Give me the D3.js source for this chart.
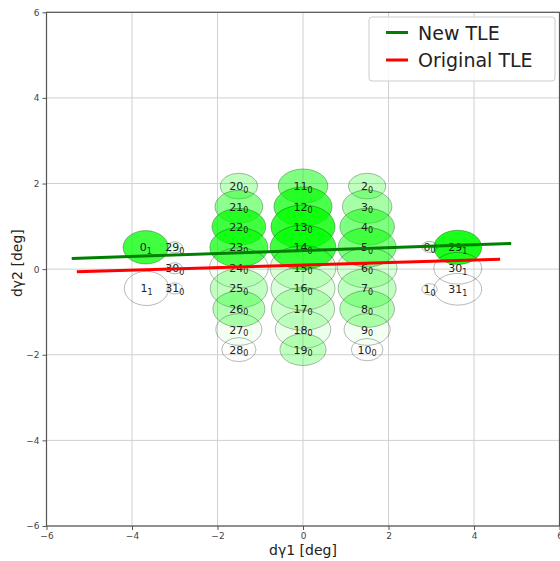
<!DOCTYPE html>
<html><head><meta charset="utf-8">
<script src="https://cdn.jsdelivr.net/npm/d3@7"></script>
<style>body{margin:0;background:#fff}svg{display:block;font-family:"DejaVu Sans",sans-serif}</style>
</head><body><svg id="c" width="560" height="561"></svg>
<script>
// ---- data ----
const ids   = [20,21,22,23,24,25,26,27,28, 11,12,13,14,15,16,17,18,19, 2,3,4,5,6,7,8,9,10, 0,1,29,30,31, 29,30,31,0,1];
const subs  = [0,0,0,0,0,0,0,0,0, 0,0,0,0,0,0,0,0,0, 0,0,0,0,0,0,0,0,0, 1,1,1,1,1, 0,0,0,0,0];
const cx    = [-1.5,-1.5,-1.5,-1.5,-1.5,-1.5,-1.5,-1.5,-1.5, 0,0,0,0,0,0,0,0,0, 1.5,1.5,1.5,1.5,1.5,1.5,1.5,1.5,1.5, -3.68,-3.66,3.62,3.62,3.62, -3.0,-3.0,-3.0,2.96,2.96];
const cy    = [1.94,1.46,0.99,0.51,0.03,-0.45,-0.93,-1.41,-1.88, 1.94,1.46,0.99,0.51,0.03,-0.45,-0.93,-1.41,-1.88, 1.94,1.46,0.99,0.51,0.03,-0.45,-0.93,-1.41,-1.88, 0.51,-0.45,0.51,0.02,-0.47, 0.51,0.02,-0.45,0.52,-0.47];
const rx    = [0.44,0.56,0.63,0.68,0.69,0.67,0.61,0.54,0.40, 0.58,0.68,0.75,0.77,0.77,0.75,0.74,0.65,0.54, 0.44,0.58,0.64,0.68,0.70,0.68,0.64,0.54,0.37, 0.53,0.52,0.56,0.56,0.56, 0.18,0.18,0.18,0.18,0.18];
const ry    = [0.30,0.38,0.43,0.46,0.47,0.46,0.42,0.37,0.28, 0.40,0.46,0.51,0.52,0.52,0.51,0.50,0.44,0.37, 0.30,0.39,0.43,0.46,0.47,0.46,0.43,0.37,0.26, 0.39,0.40,0.40,0.37,0.37, 0.13,0.13,0.13,0.13,0.13];
const alpha = [0.25,0.45,0.75,0.7,0.05,0.25,0.3,0.05,0.0, 0.5,0.7,0.8,0.75,0.15,0.15,0.2,0.08,0.25, 0.25,0.35,0.5,0.5,0.15,0.25,0.3,0.05,0.0, 0.75,0.0,0.9,0.0,0.0, 0.1,0.05,0.0,0.1,0.0];
const newTLE  = [[-5.41,0.25],[4.87,0.60]];
const origTLE = [[-5.29,-0.06],[4.61,0.23]];
const ticks = [-6,-4,-2,0,2,4,6];
const seriesNames = ["New TLE","Original TLE"];
const seriesColors = ["#008000","#ff0000"];

// ---- layout ----
const svg = d3.select("#c");
const x = d3.scaleLinear().domain([-6,6]).range([46.5,559.5]);
const y = d3.scaleLinear().domain([-6,6]).range([526,12.3]);
const fmt = d => (d<0?"\u2212":"")+Math.abs(d);

// grid
svg.append("g").selectAll("line.gx").data(ticks).join("line")
  .attr("x1",d=>x(d)).attr("x2",d=>x(d)).attr("y1",y(-6)).attr("y2",y(6))
  .attr("stroke","#d0d0d0").attr("stroke-width",1);
svg.append("g").selectAll("line.gy").data(ticks).join("line")
  .attr("y1",d=>y(d)).attr("y2",d=>y(d)).attr("x1",x(-6)).attr("x2",x(6))
  .attr("stroke","#d0d0d0").attr("stroke-width",1);

// ellipses
const data = ids.map((id,i)=>({id,sub:subs[i],cx:cx[i],cy:cy[i],rx:rx[i],ry:ry[i],a:alpha[i]}));
const k = x(1)-x(0), ky = y(0)-y(1);
svg.append("g").selectAll("ellipse").data(data).join("ellipse")
  .attr("cx",d=>x(d.cx)).attr("cy",d=>y(d.cy))
  .attr("rx",d=>d.rx*k).attr("ry",d=>d.ry*ky)
  .attr("fill","#00ff00").attr("fill-opacity",d=>d.a)
  .attr("stroke","#000").attr("stroke-opacity",0.28).attr("stroke-width",1);

// labels
const lab = svg.append("g").selectAll("text").data(data).join("text")
  .attr("x",d=>x(d.cx)).attr("y",d=>y(d.cy)+4)
  .attr("text-anchor","middle").attr("fill","#222").attr("font-size",11);
lab.append("tspan").text(d=>d.id);
lab.append("tspan").attr("font-size",8).attr("dy",2.5).text(d=>d.sub);

// lines
const line = d3.line().x(d=>x(d[0])).y(d=>y(d[1]));
[newTLE,origTLE].forEach((s,i)=>{
  svg.append("path").attr("d",line(s)).attr("fill","none")
    .attr("stroke",seriesColors[i]).attr("stroke-width",3);
});

// spines
svg.append("rect").attr("x",x(-6)).attr("y",y(6)).attr("width",x(6)-x(-6)).attr("height",y(-6)-y(6))
  .attr("fill","none").attr("stroke","#555").attr("stroke-width",1.2);

// axes ticks
const xa = d3.axisBottom(x).tickValues(ticks).tickFormat(fmt).tickSize(4).tickPadding(3);
const ya = d3.axisLeft(y).tickValues(ticks).tickFormat(fmt).tickSize(4).tickPadding(3);
const gx = svg.append("g").attr("transform",`translate(0,${y(-6)})`).call(xa);
const gy = svg.append("g").attr("transform",`translate(${x(-6)},0)`).call(ya);
[gx,gy].forEach(g=>{
  g.select(".domain").remove();
  g.selectAll("line").attr("stroke","#555");
  g.selectAll("text").attr("fill","#444").attr("font-size",9).attr("font-family","DejaVu Sans");
});

// axis labels
svg.append("text").attr("x",x(0)).attr("y",555).attr("text-anchor","middle")
  .attr("font-size",14).attr("fill","#222").text("dγ1 [deg]");
svg.append("text").attr("transform",`translate(22,${(y(-6)+y(6))/2-6}) rotate(-90)`)
  .attr("text-anchor","middle").attr("font-size",14).attr("fill","#222").text("dγ2 [deg]");

// legend
const lg = svg.append("g");
lg.append("rect").attr("x",369).attr("y",17).attr("width",186).attr("height",64).attr("rx",3)
  .attr("fill","#fff").attr("fill-opacity",0.85).attr("stroke","#ccc");
seriesNames.forEach((n,i)=>{
  const yy = 32.5 + i*27.5;
  lg.append("line").attr("x1",386).attr("x2",408).attr("y1",yy).attr("y2",yy)
    .attr("stroke",seriesColors[i]).attr("stroke-width",3);
  lg.append("text").attr("x",418).attr("y",yy+7).attr("font-size",19).attr("fill","#222").text(n);
});
</script></body></html>
